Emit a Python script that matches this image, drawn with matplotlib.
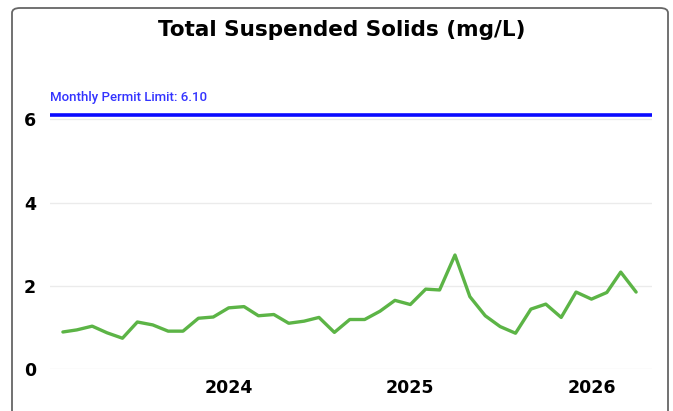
import matplotlib.pyplot as plt
import matplotlib.dates as mdates
from matplotlib.patches import FancyBboxPatch
import pandas as pd

# monthly TSS results, Feb 2023 - Apr 2026
months = pd.date_range("2023-02-01", "2026-04-01", freq="MS")
tss = [0.89, 0.94, 1.03, 0.87, 0.74, 1.13, 1.06, 0.91, 0.91, 1.22,
       1.25, 1.47, 1.50, 1.28, 1.31, 1.10, 1.15, 1.24, 0.88, 1.19,
       1.19, 1.39, 1.65, 1.55, 1.92, 1.90, 2.74, 1.74, 1.28, 1.02,
       0.86, 1.44, 1.56, 1.24, 1.85, 1.68, 1.84, 2.33, 1.85]
permit_limit = 6.10
y_ticks = [0, 2, 4, 6]
x_tick_years = ["2024-01-01", "2025-01-01", "2026-01-01"]

fig = plt.figure(figsize=(6.73, 4.11), dpi=100)
W, H = 673, 411

# card border
card = FancyBboxPatch((12 / W, -20 / H), 656 / W, (H - 8 + 20) / H,
                      boxstyle="round,pad=0,rounding_size=0.012",
                      transform=fig.transFigure, facecolor="white",
                      edgecolor="#666666", linewidth=1.3, zorder=-1)
fig.patches.append(card)

ax = fig.add_axes([50 / W, (H - 369) / H, 602 / W, (369 - 82) / H], zorder=2)
ax.set_facecolor("none")

ax.plot(months, tss, color="#5cb446", lw=2.4, solid_joinstyle="round",
        solid_capstyle="round", zorder=3)
ax.axhline(permit_limit, color="#0a0aff", lw=2.6, solid_capstyle="round", zorder=3)
ax.text(0.0, permit_limit + 0.26, f"Monthly Permit Limit: {permit_limit:.2f}",
        transform=ax.get_yaxis_transform(), color="#3333ff",
        fontsize=9.5, fontfamily="Roboto", fontweight="medium",
        va="bottom", ha="left")

ax.set_ylim(0, 6.9)
ax.set_xlim(months[0] - pd.Timedelta(days=26), months[-1] + pd.Timedelta(days=32))
ax.set_yticks(y_ticks)
ax.set_xticks(pd.to_datetime(x_tick_years))
ax.xaxis.set_major_formatter(mdates.DateFormatter("%Y"))
ax.grid(axis="y", color="#ebebeb", lw=1)
ax.set_axisbelow(True)
for s in ax.spines.values():
    s.set_visible(False)
ax.tick_params(length=0, labelsize=12.5, pad=10)
ax.tick_params(axis="x", pad=7)
for lbl in ax.get_xticklabels() + ax.get_yticklabels():
    lbl.set_fontweight("bold")
    lbl.set_fontfamily("DejaVu Sans")

fig.text(0.508, (H - 30) / H, "Total Suspended Solids (mg/L)", ha="center",
         va="center", fontsize=15.5, fontweight="bold", fontfamily="DejaVu Sans")

fig.savefig("out.png", dpi=100)
